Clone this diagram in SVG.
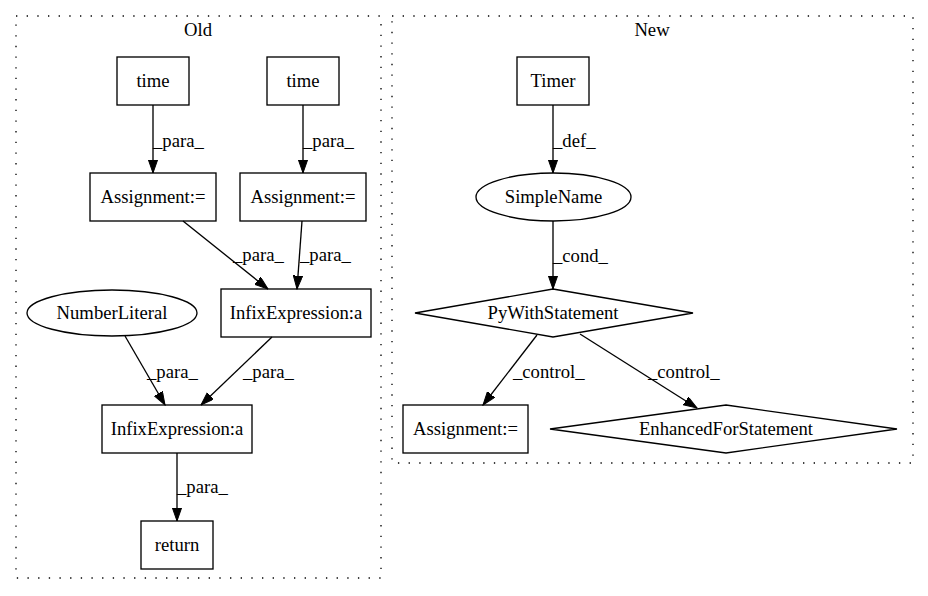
<svg xmlns="http://www.w3.org/2000/svg" width="928" height="596" viewBox="0 0 928 596">
<style>
text{font-family:'Liberation Serif','DejaVu Serif',serif;font-size:18.67px;fill:#000}
.c{text-anchor:middle}
.n{fill:none;stroke:#000;stroke-width:1.33}
.cl{fill:none;stroke:#000;stroke-width:1.33;stroke-dasharray:1.33 9.33}
.e{fill:none;stroke:#000;stroke-width:1.33;marker-end:url(#ah)}
</style>
<defs>
<marker id="ah" markerUnits="userSpaceOnUse" markerWidth="14" markerHeight="10" refX="13.3" refY="4.67" orient="auto">
<path d="M0,0 L13.3,4.67 L0,9.33 z" fill="#000" stroke="#000" stroke-width="1"/>
</marker>
</defs>
<rect width="928" height="596" fill="#fff"/>
<g id="cluster_old">
<rect class="cl" x="16" y="16" width="365" height="562"/>
<text class="c" x="198" y="36">Old</text>
</g>
<g id="cluster_new">
<rect class="cl" x="392" y="16" width="521" height="447"/>
<text class="c" x="652" y="36">New</text>
</g>
<g id="edges">
<line class="e" x1="153" y1="105" x2="153" y2="173"/>
<text x="153" y="147">_para_</text>
<line class="e" x1="303" y1="105" x2="303" y2="173"/>
<text x="303" y="147">_para_</text>
<line class="e" x1="183" y1="221" x2="268" y2="289"/>
<text x="233" y="261">_para_</text>
<line class="e" x1="302" y1="221" x2="297" y2="289"/>
<text x="300" y="261">_para_</text>
<line class="e" x1="125" y1="336" x2="165" y2="405"/>
<text x="147" y="378">_para_</text>
<line class="e" x1="272" y1="337" x2="201" y2="405"/>
<text x="243" y="378">_para_</text>
<line class="e" x1="177" y1="453" x2="177" y2="521"/>
<text x="177" y="493">_para_</text>
<line class="e" x1="553" y1="105" x2="553" y2="173"/>
<text x="553" y="147">_def_</text>
<line class="e" x1="553" y1="221" x2="553" y2="289"/>
<text x="553" y="262">_cond_</text>
<line class="e" x1="537" y1="335" x2="483" y2="405"/>
<text x="513" y="378">_control_</text>
<line class="e" x1="580" y1="334" x2="697" y2="408"/>
<text x="648" y="378">_control_</text>
</g>
<g id="old_time1"><rect class="n" x="117" y="57" width="72" height="48"/><text class="c" x="153" y="87">time</text></g>
<g id="old_time2"><rect class="n" x="267" y="57" width="72" height="48"/><text class="c" x="303" y="87">time</text></g>
<g id="old_assign1"><rect class="n" x="90" y="173" width="126" height="48"/><text class="c" x="153" y="203">Assignment:=</text></g>
<g id="old_assign2"><rect class="n" x="240" y="173" width="126" height="48"/><text class="c" x="303" y="203">Assignment:=</text></g>
<g id="old_infix1"><rect class="n" x="221" y="289" width="150" height="48"/><text class="c" x="296" y="319">InfixExpression:a</text></g>
<g id="old_numlit"><ellipse class="n" cx="112" cy="313" rx="85" ry="23"/><text class="c" x="112" y="319">NumberLiteral</text></g>
<g id="old_infix2"><rect class="n" x="102" y="405" width="150" height="48"/><text class="c" x="177" y="435">InfixExpression:a</text></g>
<g id="old_return"><rect class="n" x="141" y="521" width="72" height="48"/><text class="c" x="177" y="551">return</text></g>
<g id="new_timer"><rect class="n" x="517" y="57" width="72" height="48"/><text class="c" x="553" y="87">Timer</text></g>
<g id="new_simplename"><ellipse class="n" cx="553.5" cy="197" rx="77.5" ry="24"/><text class="c" x="553.5" y="203">SimpleName</text></g>
<g id="new_pywith"><polygon class="n" points="553,289 693,313 553,337 415,313"/><text class="c" x="553" y="319">PyWithStatement</text></g>
<g id="new_assign"><rect class="n" x="403" y="405" width="125" height="48"/><text class="c" x="465.5" y="435">Assignment:=</text></g>
<g id="new_enhanced"><polygon class="n" points="726,405 897,429 726,453 550,429"/><text class="c" x="726" y="435">EnhancedForStatement</text></g>
</svg>
